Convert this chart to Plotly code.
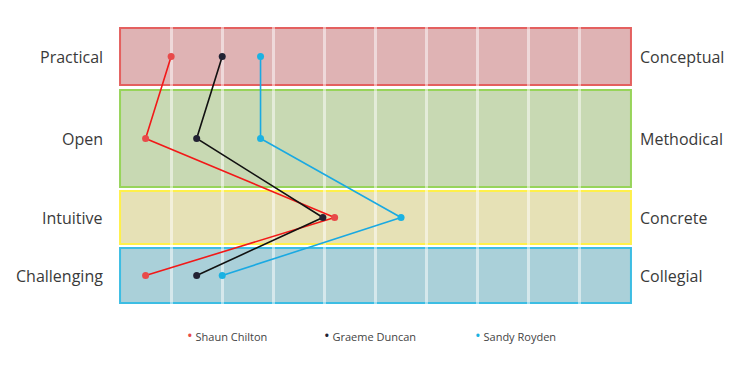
import plotly.graph_objects as go

# Bands (bottom to top): left label, right label, y from, y to, fill, border
band_left = ["Challenging", "Intuitive", "Open", "Practical"]
band_right = ["Collegial", "Concrete", "Methodical", "Conceptual"]
band_y0 = [0.0, 5.9, 11.6, 21.8]
band_y1 = [5.5, 11.2, 21.3, 27.5]
band_fill = ["#aad0d9", "#e6e1b6", "#c8d9b3", "#dfb3b4"]
band_line = ["#3cbde3", "#fff04a", "#97d45a", "#e4605f"]

# Series values per band (order: Practical, Open, Intuitive, Challenging)
point_bands = ["Practical", "Open", "Intuitive", "Challenging"]
shaun = [1.0, 0.5, 4.2, 0.5]
graeme = [2.0, 1.5, 3.97, 1.5]
sandy = [2.75, 2.75, 5.5, 2.0]
series_names = ["Shaun Chilton", "Graeme Duncan", "Sandy Royden"]
line_colors = ["#f21818", "#111111", "#1aa9e2"]
marker_colors = ["#e84a4a", "#222233", "#1ab2e2"]

band_center = {band_left[i]: (band_y0[i] + band_y1[i]) / 2 for i in range(4)}
ys = [band_center[b] for b in point_bands]

fig = go.Figure()
for name, vals, lc, mc in zip(series_names, [shaun, graeme, sandy], line_colors, marker_colors):
    fig.add_trace(go.Scatter(
        x=vals, y=ys, mode="lines+markers", name=name,
        line=dict(color=lc, width=1.6),
        marker=dict(color=mc, size=7),
        showlegend=False, cliponaxis=False,
    ))

shapes = []
for i in range(4):
    shapes.append(dict(type="rect", xref="x", yref="y", x0=0, x1=10,
                       y0=band_y0[i], y1=band_y1[i], fillcolor=band_fill[i],
                       line=dict(color=band_line[i], width=2), layer="below"))

font = "Open Sans, Lato, sans-serif"
annotations = []
for i in range(4):
    yc = (band_y0[i] + band_y1[i]) / 2
    annotations.append(dict(x=-0.025, y=yc, xref="paper", yref="y", text=band_left[i],
                            showarrow=False, xanchor="right", yanchor="middle",
                            font=dict(family=font, size=16, color="#3a3a3a")))
    annotations.append(dict(x=1.0100, y=yc, xref="paper", yref="y", text=band_right[i],
                            showarrow=False, xanchor="left", yanchor="middle",
                            font=dict(family=font, size=16, color="#3a3a3a")))

legend_x = [0.2117, 0.4893, 0.7728]
for name, mc, lx in zip(series_names, marker_colors, legend_x):
    annotations.append(dict(x=lx, y=-0.103, xref="paper", yref="paper",
                            text=f"<span style='color:{mc};font-size:15px'>•</span> {name}",
                            showarrow=False, xanchor="center", yanchor="middle",
                            font=dict(family=font, size=11, color="#444444")))

fig.update_layout(
    width=754, height=376,
    margin=dict(l=110, r=129, t=17, b=78),
    paper_bgcolor="white", plot_bgcolor="white",
    shapes=shapes, annotations=annotations,
    xaxis=dict(range=[-0.04, 10.04], tickvals=[1, 2, 3, 4, 5, 6, 7, 8, 9],
               showticklabels=False, showgrid=True,
               gridcolor="rgba(255,255,255,0.5)", gridwidth=3,
               zeroline=False, showline=False, fixedrange=True),
    yaxis=dict(range=[-0.3, 27.8], showgrid=False, showticklabels=False,
               zeroline=False, showline=False, fixedrange=True),
    showlegend=False,
)

fig.write_html("out.html")
